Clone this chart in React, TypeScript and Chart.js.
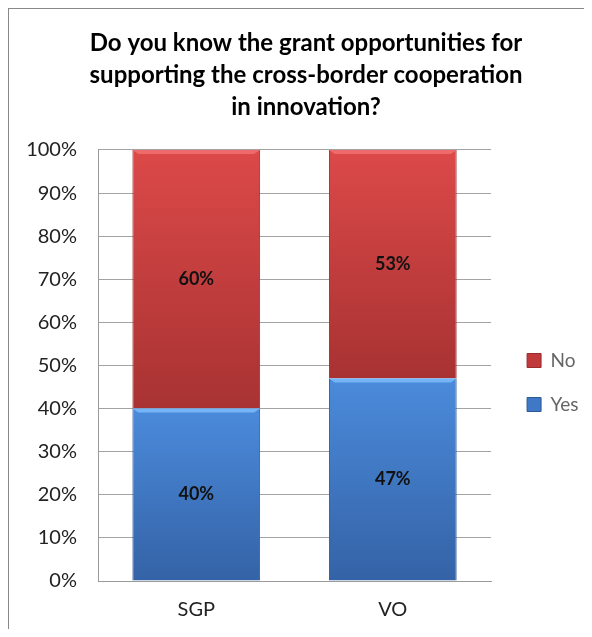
import React, { useEffect, useRef } from 'react';
import { Chart, registerables } from 'chart.js';

Chart.register(...registerables);

const categories = ['SGP', 'VO'];
const yesValues = [40, 47];
const noValues = [60, 53];
const yTickLabels = ['0%', '10%', '20%', '30%', '40%', '50%', '60%', '70%', '80%', '90%', '100%'];
const titleLines = [
  'Do you know the grant opportunities for',
  'supporting the cross-border cooperation',
  'in innovation?',
];
const seriesNames = ['Yes', 'No'];

const FONT = 'Lato, "Open Sans", sans-serif';

const RED = { top: '#DC4949', bottom: '#A83232', solid: '#C0393B', edge: '#9A2C2C', hi: '#EE6B6B' };
const BLUE = { top: '#4B8BDB', bottom: '#3462A6', solid: '#3F78C7', edge: '#2E5894', hi: '#74B5F6' };

function gradientFor(pal: typeof RED) {
  return (ctx: any) => {
    const chart = ctx.chart;
    const y = chart.scales && chart.scales.y;
    if (!y || ctx.type !== 'data') return pal.solid;
    const i = ctx.dataIndex;
    const ds = ctx.datasetIndex;
    const start = ds === 0 ? 0 : yesValues[i];
    const end = start + (ds === 0 ? yesValues[i] : noValues[i]);
    const top = y.getPixelForValue(end);
    const bottom = y.getPixelForValue(start);
    if (!isFinite(top) || !isFinite(bottom) || top === bottom) return pal.solid;
    const g = chart.ctx.createLinearGradient(0, top, 0, bottom);
    g.addColorStop(0, pal.top);
    g.addColorStop(1, pal.bottom);
    return g;
  };
}

const barDecor = {
  id: 'barDecor',
  afterDatasetsDraw(chart: any) {
    const ctx = chart.ctx;
    chart.data.datasets.forEach((_: any, di: number) => {
      const meta = chart.getDatasetMeta(di);
      const pal = di === 0 ? BLUE : RED;
      meta.data.forEach((bar: any, i: number) => {
        const left = bar.x - bar.width / 2;
        const right = bar.x + bar.width / 2;
        const top = bar.y;
        ctx.save();
        ctx.fillStyle = pal.hi;
        ctx.beginPath();
        ctx.moveTo(left, top);
        ctx.lineTo(right, top);
        ctx.lineTo(right - 6, top + 4);
        ctx.lineTo(left + 6, top + 4);
        ctx.closePath();
        ctx.fill();
        ctx.restore();
        const val = di === 0 ? yesValues[i] : noValues[i];
        ctx.save();
        ctx.font = `bold 18px ${FONT}`;
        ctx.fillStyle = '#111';
        ctx.textAlign = 'center';
        ctx.textBaseline = 'middle';
        ctx.fillText(val + '%', bar.x, (bar.y + bar.base) / 2);
        ctx.restore();
      });
    });
  },
};

export default function App() {
  const ref = useRef<HTMLCanvasElement>(null);
  useEffect(() => {
    if (!ref.current) return;
    const chart = new Chart(ref.current, {
      type: 'bar',
      data: {
        labels: categories,
        datasets: [
          {
            label: seriesNames[0],
            data: yesValues,
            backgroundColor: gradientFor(BLUE),
            borderColor: BLUE.edge,
            borderWidth: { left: 1, right: 1, top: 0, bottom: 0 },
            borderSkipped: false,
            barPercentage: 1,
            categoryPercentage: 0.65,
          },
          {
            label: seriesNames[1],
            data: noValues,
            backgroundColor: gradientFor(RED),
            borderColor: RED.edge,
            borderWidth: { left: 1, right: 1, top: 0, bottom: 0 },
            borderSkipped: false,
            barPercentage: 1,
            categoryPercentage: 0.65,
          },
        ],
      },
      options: {
        animation: false,
        responsive: false,
        maintainAspectRatio: false,
        layout: { padding: { left: 14.4, right: 3.4, top: 0, bottom: 0 } },
        plugins: {
          title: {
            display: true,
            text: titleLines,
            color: '#000',
            font: { family: FONT, size: 24, weight: 'bold', lineHeight: 1.3333 },
            padding: { top: 18.5, bottom: 26.5 },
          },
          legend: {
            position: 'right',
            align: 'start',
            title: { display: true, text: ' ', font: { size: 10 }, padding: { top: 300, bottom: 5 } },
            labels: {
              font: { family: FONT, size: 19 },
              color: '#111',
              boxWidth: 14,
              boxHeight: 14,
              padding: 25,
              generateLabels: () => [
                { text: seriesNames[1], fillStyle: RED.solid, strokeStyle: RED.edge, lineWidth: 1, datasetIndex: 1, hidden: false },
                { text: seriesNames[0], fillStyle: BLUE.solid, strokeStyle: BLUE.edge, lineWidth: 1, datasetIndex: 0, hidden: false },
              ],
            },
          },
          tooltip: { enabled: false },
        },
        scales: {
          x: {
            stacked: true,
            afterFit: (s: any) => { s.height = 48; },
            grid: { display: false, drawTicks: false },
            border: { display: true, color: '#9a9a9a' },
            ticks: { font: { family: FONT, size: 20 }, color: '#222', padding: 17 },
          },
          y: {
            stacked: true,
            min: 0,
            max: 100,
            afterFit: (s: any) => { s.width = 74.6; },
            ticks: {
              stepSize: 10,
              font: { family: FONT, size: 20 },
              color: '#222',
              padding: 21,
              callback: (_v: any, idx: number) => yTickLabels[idx],
            },
            grid: { color: '#a3a3a3', drawTicks: false },
            border: { display: true, color: '#9a9a9a' },
          },
          spacer: {
            type: 'linear',
            position: 'right',
            display: true,
            afterFit: (s: any) => { s.width = 11; },
            ticks: { display: false },
            grid: { display: false, drawTicks: false },
            border: { display: false },
          },
        },
      },
      plugins: [barDecor],
    });
    return () => chart.destroy();
  }, []);
  return (
    <div style={{ width: 583, height: 620, borderTop: '1px solid #888', borderLeft: '1px solid #888' }}>
      <canvas ref={ref} width={583} height={620} style={{ display: 'block' }} />
    </div>
  );
}
